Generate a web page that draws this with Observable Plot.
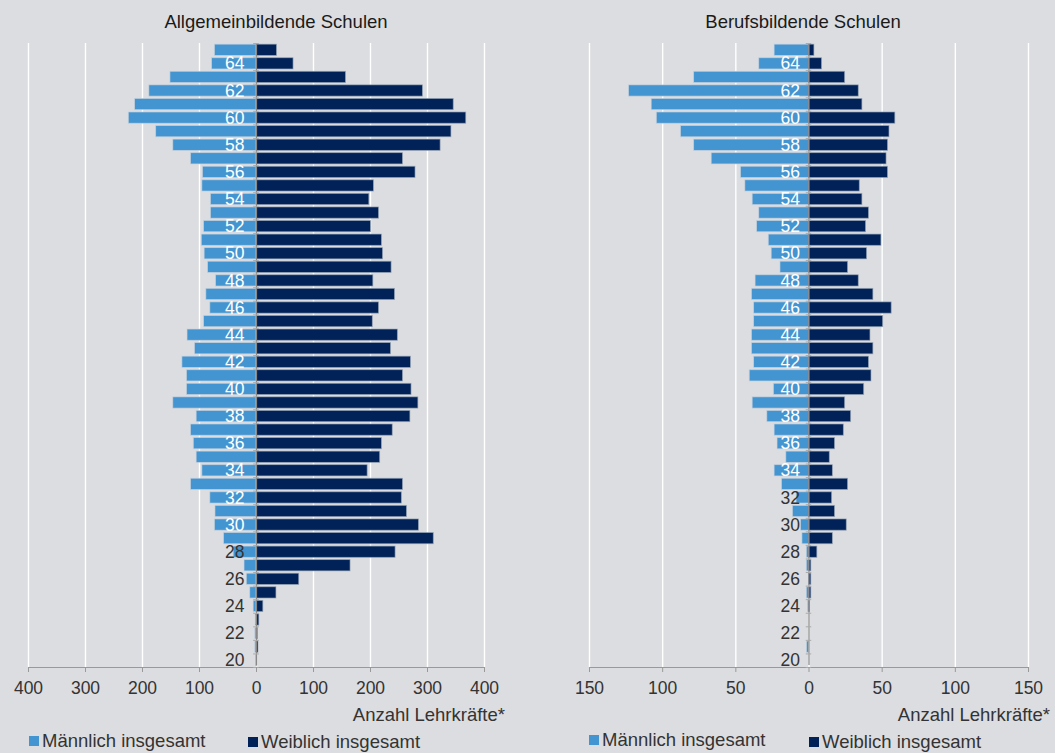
<!DOCTYPE html>
<html>
<head>
<meta charset="utf-8">
<script src="https://cdn.jsdelivr.net/npm/d3@7"></script>
<script src="https://cdn.jsdelivr.net/npm/@observablehq/plot@0.6"></script>
<style>
  html, body { margin: 0; padding: 0; background: #dcdde0; }
  #root { position: relative; width: 1055px; height: 753px; background: #dcdde0; font-family: "Liberation Sans", Arial, sans-serif; color: #333; overflow: hidden; }
  .abs { position: absolute; white-space: nowrap; }
  .title { font-size: 18.5px; color: #1a1a1a; transform: translateX(-50%); }
  .xlabel { font-size: 18.5px; color: #333; transform: translateX(-100%); }
  .leg { font-size: 18.5px; line-height: 20px; color: #333; display: flex; align-items: center; }
  .sw { display: inline-block; width: 10px; height: 10px; margin-right: 3px; }
</style>
</head>
<body>
<div id="root"></div>
<script>
// ---- data (ages from top to bottom) ----
const ages = [65,64,63,62,61,60,59,58,57,56,55,54,53,52,51,50,49,48,47,46,45,44,43,42,41,40,39,38,37,36,35,34,33,32,31,30,29,28,27,26,25,24,23,22,21,20];
const ageTicks = [64,62,60,58,56,54,52,50,48,46,44,42,40,38,36,34,32,30,28,26,24,22,20];

const allgMaennlich = [73,78,151,188,213,224,176,146,115,94,95,80,80,92,96,91,85,71,88,81,92,121,108,130,122,122,146,105,115,110,105,95,115,81,72,73,57,40,21,17,11,5,1.5,2,2,0.5];
const allgWeiblich  = [36,65,157,292,346,368,342,323,257,279,206,198,215,201,220,222,237,205,243,215,204,248,236,271,257,272,284,270,239,220,217,195,257,255,264,285,311,244,165,75,35,12,5,2.5,3.5,0.5];

const berufMaennlich = [23.5,34,78.5,123,107.5,104,87.5,78.5,66.5,46.5,43.5,38.5,34,35.5,27.5,25.5,19.5,36.5,39,37.5,37.5,39,39,37.5,40.5,24,38.5,28.5,23.5,21.5,15.5,23.5,18.5,8.5,11,5.5,4.5,1.5,1.5,0,1.5,0.7,0,0,1.4,0];
const berufWeiblich  = [3.7,8.9,24.7,34,36.5,59,55,54,53,54,34.7,36.5,41,39,49.5,39.7,26.7,34,44,56.5,50.7,42,44,41,42.7,37.7,24.7,28.8,23.8,17.8,14.2,16.3,26.7,15.8,17.8,25.8,16.3,5.7,1.6,1.6,1.6,0.7,0,0,0,0];

const titles = ["Allgemeinbildende Schulen", "Berufsbildende Schulen"];
const axisTitle = "Anzahl Lehrkräfte*";
const seriesNames = ["Männlich insgesamt", "Weiblich insgesamt"];
const seriesColors = ["#4395d1", "#002258"];
const leftTicks = [-400,-300,-200,-100,0,100,200,300,400];
const rightTicks = [-150,-100,-50,0,50,100,150];

const root = document.getElementById("root");

function pyramid({male, female, ticks, maxAbs, width, marginLeft, marginRight, whiteFrom, labelDx}) {
  const rows = ages.map((a, i) => ({age: a, m: male[i], f: female[i]}));
  const half = 0.415;
  const bounds = ages.map(a => a - 0.5).concat([65.5]);
  const font = "Liberation Sans, Arial, sans-serif";
  return Plot.plot({
    width, height: 700,
    marginLeft, marginRight, marginTop: 43, marginBottom: 33,
    style: {background: "transparent", fontFamily: font, fontSize: "17.5px", color: "#333", overflow: "visible"},
    x: {domain: [-maxAbs, maxAbs]},
    y: {domain: [19.5, 65.5]},
    marks: [
      Plot.ruleX(ticks, {stroke: "white", strokeWidth: 1.4}),
      Plot.rectX(rows, {x1: 0, x2: d => -d.m, y1: d => d.age - half, y2: d => d.age + half, fill: seriesColors[0], stroke: "#c8d2dc", strokeOpacity: 0.8, strokeWidth: 0.8}),
      Plot.rectX(rows, {x1: 0, x2: d => d.f, y1: d => d.age - half, y2: d => d.age + half, fill: seriesColors[1], stroke: "#9aa6b6", strokeOpacity: 0.8, strokeWidth: 0.8}),
      Plot.ruleY([19.5], {stroke: "#999", strokeWidth: 1.2}),
      Plot.ruleX([0], {stroke: "#888", strokeWidth: 1.2, y1: 19.5, y2: 65.5, insetTop: -2}),
      Plot.ruleY(bounds, {x1: -maxAbs * 0.0125, x2: maxAbs * 0.0125, stroke: "#aaa", strokeWidth: 1}),
      Plot.text(ageTicks.filter(a => a >= whiteFrom), {x: 0, y: d => d, text: d => String(d), textAnchor: "end", dx: labelDx, fill: "white", fontSize: 17.5}),
      Plot.text(ageTicks.filter(a => a < whiteFrom), {x: 0, y: d => d, text: d => String(d), textAnchor: "end", dx: labelDx, fill: "#333", fontSize: 17.5}),
      Plot.axisX(ticks, {tickSize: 5, tickPadding: 9, stroke: "#999", tickFormat: d => String(Math.abs(d)), fill: "#333", fontSize: 17.5, label: null}),
      Plot.axisY([], {label: null, tickSize: 0})
    ]
  });
}

function place(el, left, top) {
  el.style.position = "absolute";
  el.style.left = left + "px";
  el.style.top = top + "px";
  root.appendChild(el);
}

const left = pyramid({male: allgMaennlich, female: allgWeiblich, ticks: leftTicks, maxAbs: 400, width: 528, marginLeft: 28, marginRight: 44, whiteFrom: 30, labelDx: -12});
place(left, 0, 0);
const right = pyramid({male: berufMaennlich, female: berufWeiblich, ticks: rightTicks, maxAbs: 150, width: 527, marginLeft: 61, marginRight: 27, whiteFrom: 34, labelDx: -9});
place(right, 528, 0);

function addText(cls, text, left, top) {
  const d = document.createElement("div");
  d.className = "abs " + cls;
  d.textContent = text;
  d.style.left = left + "px";
  d.style.top = top + "px";
  root.appendChild(d);
  return d;
}
addText("title", titles[0], 276, 11);
addText("title", titles[1], 803, 11);
addText("xlabel", axisTitle, 505, 704);
addText("xlabel", axisTitle, 1050, 704);

function addLegend(left, top, i) {
  const d = document.createElement("div");
  d.className = "abs leg";
  d.style.left = left + "px";
  d.style.top = top + "px";
  const s = document.createElement("span");
  s.className = "sw";
  s.style.background = seriesColors[i];
  const t = document.createElement("span");
  t.textContent = seriesNames[i];
  d.appendChild(s); d.appendChild(t);
  root.appendChild(d);
}
addLegend(29, 731, 0);
addLegend(248, 732, 1);
addLegend(589, 730, 0);
addLegend(809, 732, 1);
</script>
</body>
</html>
